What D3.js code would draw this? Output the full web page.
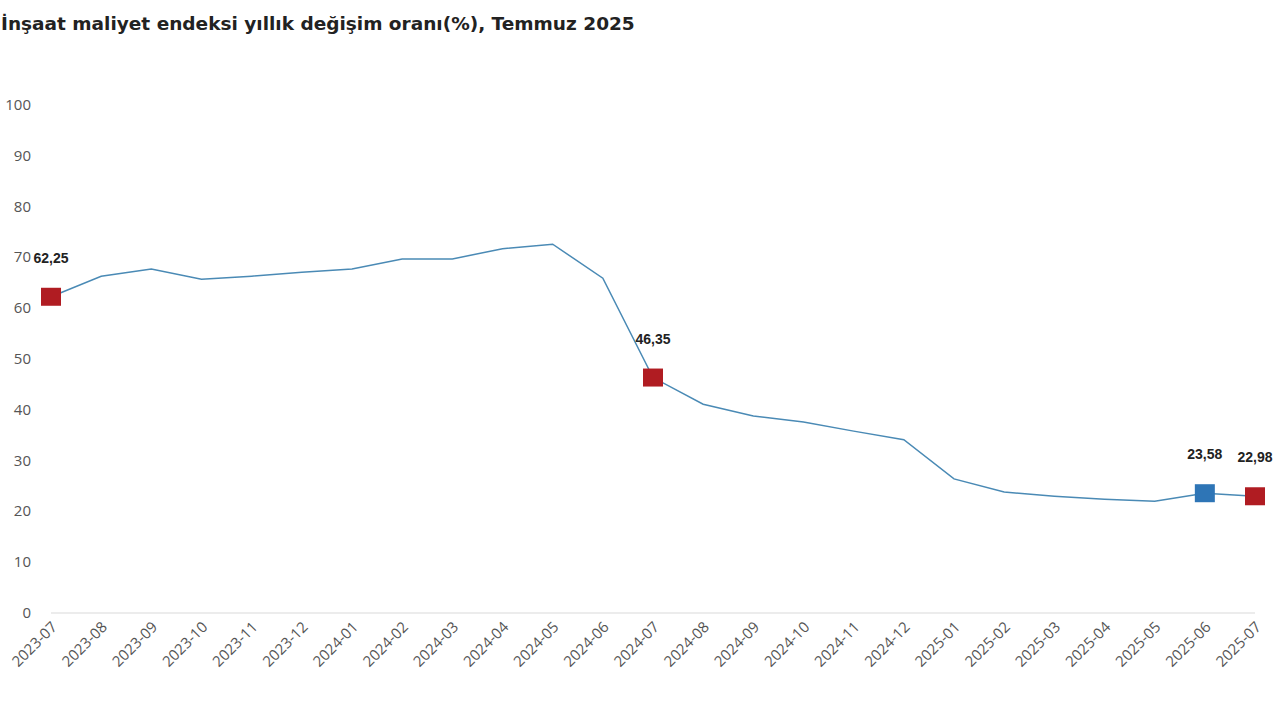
<!DOCTYPE html>
<html><head><meta charset="utf-8">
<script src="https://cdn.jsdelivr.net/npm/d3@7"></script>
<style>body{margin:0;background:#fff}svg{display:block}</style>
</head><body>
<svg width="1280" height="720"></svg>
<script>
const months = ["2023-07","2023-08","2023-09","2023-10","2023-11","2023-12","2024-01","2024-02","2024-03","2024-04","2024-05","2024-06","2024-07","2024-08","2024-09","2024-10","2024-11","2024-12","2025-01","2025-02","2025-03","2025-04","2025-05","2025-06","2025-07"];
const values = [62.25,66.3,67.7,65.7,66.3,67.1,67.7,69.7,69.7,71.7,72.6,65.9,46.35,41.1,38.8,37.6,35.8,34.1,26.4,23.8,23.0,22.4,22.0,23.58,22.98];
const highlights = [{m:"2023-07",v:62.25,label:"62,25",c:"#b01c22"},{m:"2024-07",v:46.35,label:"46,35",c:"#b01c22"},{m:"2025-06",v:23.58,label:"23,58",c:"#2e75b6"},{m:"2025-07",v:22.98,label:"22,98",c:"#b01c22"}];
const yTicks = [0,10,20,30,40,50,60,70,80,90,100];
const title = "İnşaat maliyet endeksi yıllık değişim oranı(%), Temmuz 2025";

const svg = d3.select("svg");
const x = d3.scalePoint().domain(months).range([51,1255]);
const y = d3.scaleLinear().domain([0,100]).range([613,105]);

svg.append("text").attr("x",1).attr("y",30).attr("font-family","DejaVu Sans, sans-serif").attr("font-weight","bold").attr("font-size",18.5).attr("fill","#222").text(title);

svg.append("line").attr("x1",51).attr("x2",1255).attr("y1",y(0)).attr("y2",y(0)).attr("stroke","#d9d9d9");

svg.append("g").selectAll("text").data(yTicks).join("text")
 .attr("x",31).attr("y",d=>y(d)+5).attr("text-anchor","end")
 .attr("font-family","Open Sans, sans-serif").attr("font-size",15).attr("fill","#555").text(d=>d);

svg.append("g").selectAll("text").data(months).join("text")
 .attr("transform",d=>`translate(${x(d)+7},${628}) rotate(-45)`).attr("text-anchor","end")
 .attr("font-family","Open Sans, sans-serif").attr("font-size",15).attr("fill","#555").text(d=>d);

svg.append("path").datum(values).attr("fill","none").attr("stroke","#4a8ab5").attr("stroke-width",1.5)
 .attr("d",d3.line().x((d,i)=>x(months[i])).y(d=>y(d)));

svg.append("g").selectAll("rect").data(highlights).join("rect")
 .attr("x",d=>x(d.m)-10).attr("y",d=>y(d.v)-9).attr("width",20).attr("height",18).attr("fill",d=>d.c);

svg.append("g").selectAll("text").data(highlights).join("text")
 .attr("x",d=>x(d.m)).attr("y",d=>y(d.v)-34).attr("text-anchor","middle")
 .attr("font-family","Liberation Sans, Arial, sans-serif").attr("font-weight","bold").attr("font-size",14).attr("fill","#222").text(d=>d.label);
</script>
</body></html>
